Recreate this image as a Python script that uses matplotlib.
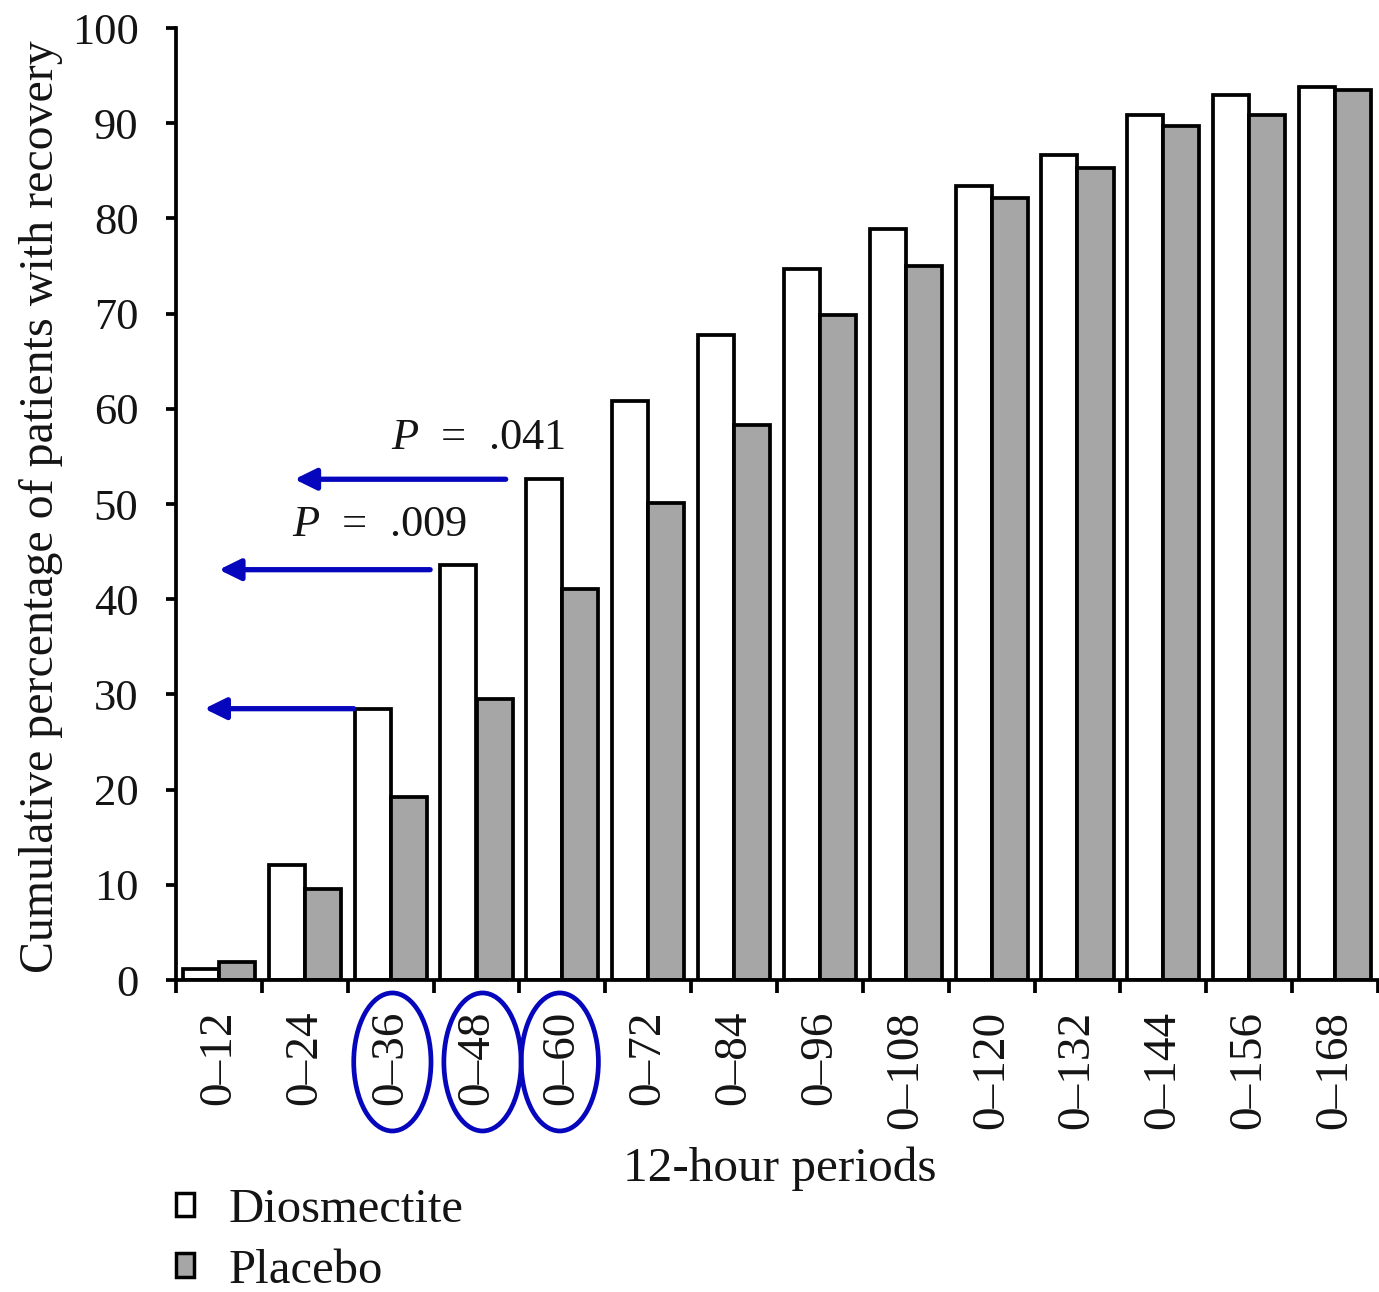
import matplotlib
matplotlib.use("Agg")
import matplotlib.pyplot as plt
import numpy as np
from matplotlib.patches import Patch, Ellipse
from matplotlib.transforms import blended_transform_factory

plt.rcParams['font.family'] = ['Liberation Serif', 'DejaVu Serif']
plt.rcParams['mathtext.fontset'] = 'custom'
plt.rcParams['mathtext.rm'] = 'Liberation Serif'
plt.rcParams['mathtext.it'] = 'Liberation Serif:italic'

# ---- data ----
periods = ["0–12", "0–24", "0–36", "0–48", "0–60", "0–72", "0–84", "0–96",
           "0–108", "0–120", "0–132", "0–144", "0–156", "0–168"]
diosmectite = [1.2, 12.1, 28.5, 43.6, 52.6, 60.8, 67.8, 74.7, 78.9, 83.4, 86.7, 90.9, 93.0, 93.8]
placebo = [1.9, 9.6, 19.2, 29.5, 41.1, 50.1, 58.3, 69.9, 75.0, 82.1, 85.3, 89.7, 90.9, 93.5]
series_names = ["Diosmectite", "Placebo"]
y_ticks = [0, 10, 20, 30, 40, 50, 60, 70, 80, 90, 100]
p_labels = ["$P$  =  .041", "$P$  =  .009"]
highlighted = ["0–36", "0–48", "0–60"]

W, H = 1379, 1292
fig = plt.figure(figsize=(W / 100, H / 100), dpi=100)
ax = fig.add_axes([176 / W, 1 - 980 / H, (1378 - 176) / W, (980 - 28) / H])

txt = '#141414'
x = np.arange(len(periods))
bw = 0.42
edge_lw = 2.7
ax.bar(x - bw / 2, diosmectite, width=bw, color='white', edgecolor='black', linewidth=edge_lw)
ax.bar(x + bw / 2, placebo, width=bw, color='#a6a6a6', edgecolor='black', linewidth=edge_lw)

ax.set_xlim(-0.5, len(periods) - 0.5)
ax.set_ylim(0, 100)
ax.set_yticks(y_ticks)
ax.tick_params(axis='y', direction='out', length=7, width=2.7, labelsize=32, pad=20,
               labelcolor=txt)
ax.set_xticks(x)
ax.set_xticklabels(periods, rotation=90, fontsize=34, color=txt)
ax.tick_params(axis='x', which='major', length=0, pad=22)
ax.set_xticks(np.arange(len(periods) + 1) - 0.5, minor=True)
ax.tick_params(axis='x', which='minor', direction='out', length=9, width=2.7)

for s in ['top', 'right']:
    ax.spines[s].set_visible(False)
for s in ['left', 'bottom']:
    ax.spines[s].set_linewidth(2.7)

ax.set_ylabel("Cumulative percentage of patients with recovery", fontsize=34.5, color=txt)
ax.yaxis.set_label_coords(-0.094, 0.497)
ax.set_xlabel("12-hour periods", fontsize=35.5, color=txt)
ax.xaxis.set_label_coords(0.502, -0.175)

# ---- annotations ----
blue = '#0606bd'
arrows = [(1.57, 28.5, -0.17), (2.46, 43.1, 0.0), (3.34, 52.6, 0.88)]
for x0, yv, x1 in arrows:
    ax.annotate('', xy=(x1, yv), xytext=(x0, yv),
                arrowprops=dict(arrowstyle='-|>,head_length=0.65,head_width=0.32',
                                color=blue, lw=3.8, mutation_scale=20,
                                shrinkA=0, shrinkB=0))
ax.text(4.03, 56.9, p_labels[0], fontsize=32, ha='right', va='center', color=txt)
ax.text(2.89, 47.8, p_labels[1], fontsize=32, ha='right', va='center', color=txt)

trans = blended_transform_factory(ax.transData, ax.transAxes)
for cx, lab in zip([2.02, 3.07, 3.97], highlighted):
    e = Ellipse((cx, -0.0861), width=0.9, height=0.145, transform=trans,
                fill=False, edgecolor=blue, linewidth=3.4, clip_on=False)
    ax.add_patch(e)

# ---- legend ----
handles = [Patch(facecolor='white', edgecolor='black', linewidth=2.5),
           Patch(facecolor='#a6a6a6', edgecolor='black', linewidth=2.5)]
fig.legend(handles, series_names, loc='upper left',
           bbox_to_anchor=(176 / W, 1 - 1188 / H), frameon=False, fontsize=35,
           handlelength=0.36, handleheight=0.36, handletextpad=0.73,
           labelspacing=0.34, borderpad=0, borderaxespad=0, labelcolor=txt)

fig.savefig('out.png', dpi=100)
